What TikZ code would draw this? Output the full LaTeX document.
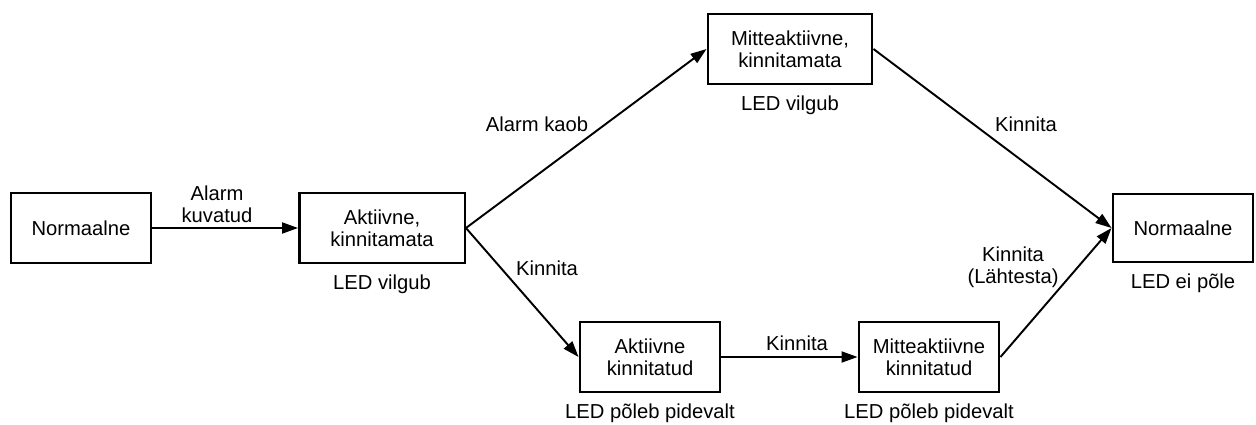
\documentclass[tikz,border=0pt]{standalone}
\usepackage{fontspec}
\setmainfont{Liberation Sans}
\usetikzlibrary{positioning,arrows.meta}

\tikzset{
  state/.style={draw, line width=1.4pt, minimum width=2.81cm, minimum height=1.39cm,
    inner sep=0pt, align=center, font=\fontsize{11.5}{12.4}\selectfont},
  ledtxt/.style={inner sep=0pt, font=\fontsize{11.5}{12.4}\selectfont},
  lbl/.style={inner sep=0pt, align=center, font=\fontsize{11.5}{12.4}\selectfont},
  trans/.style={-{Triangle[length=0.32cm,width=0.22cm]}, line width=1.1pt},
}

\begin{document}
\begin{tikzpicture}[x=0.02cm, y=-0.02cm]
  \useasboundingbox (0,0) rectangle (1256,425);

  % states
  \node[state, minimum width=2.79cm] (norm1) at (81,228) {Normaalne};
  \node[state, minimum width=3.31cm] (aktkin) at (382,228) {Aktiivne,\\kinnitamata};
  \node[state, minimum width=3.29cm] (mitkin) at (790,49) {Mitteaktiivne,\\kinnitamata};
  \node[state, minimum height=1.35cm] (norm2) at (1183,228) {Normaalne};
  \node[state] (aktkit) at (650,357) {Aktiivne\\kinnitatud};
  \node[state] (mitkit) at (929,357) {Mitteaktiivne\\kinnitatud};

  % LED states
  \node[ledtxt, below=0.22cm of aktkin] (ledaktkin) {LED vilgub};
  \node[ledtxt, below=0.22cm of mitkin] (ledmitkin) {LED vilgub};
  \node[ledtxt, below=0.22cm of norm2] (lednorm2) {LED ei põle};
  \node[ledtxt, below=0.22cm of aktkit] (ledaktkit) {LED põleb pidevalt};
  \node[ledtxt, below=0.22cm of mitkit] (ledmitkit) {LED põleb pidevalt};

  % transitions
  \draw[trans] (norm1.east) -- (aktkin.west);
  \draw[trans] (aktkin.east) -- (mitkin.west);
  \draw[trans] (aktkin.east) -- (aktkit.west);
  \draw[trans] (aktkit.east) -- (mitkit.west);
  \draw[trans] (mitkin.east) -- (norm2.west);
  \draw[trans] (mitkit.east) -- (norm2.west);

  \node[lbl] (lblkuv) at (217,204) {Alarm\\kuvatud};
  \node[lbl] (lblkaob) at (537,124) {Alarm kaob};
  \node[lbl] (lblkin1) at (547,268) {Kinnita};
  \node[lbl] (lblkin2) at (797,343) {Kinnita};
  \node[lbl] (lblkin3) at (1026,124) {Kinnita};
  \node[lbl] (lbllaht) at (1013,267) {Kinnita\\(Lähtesta)};
\end{tikzpicture}
\end{document}
